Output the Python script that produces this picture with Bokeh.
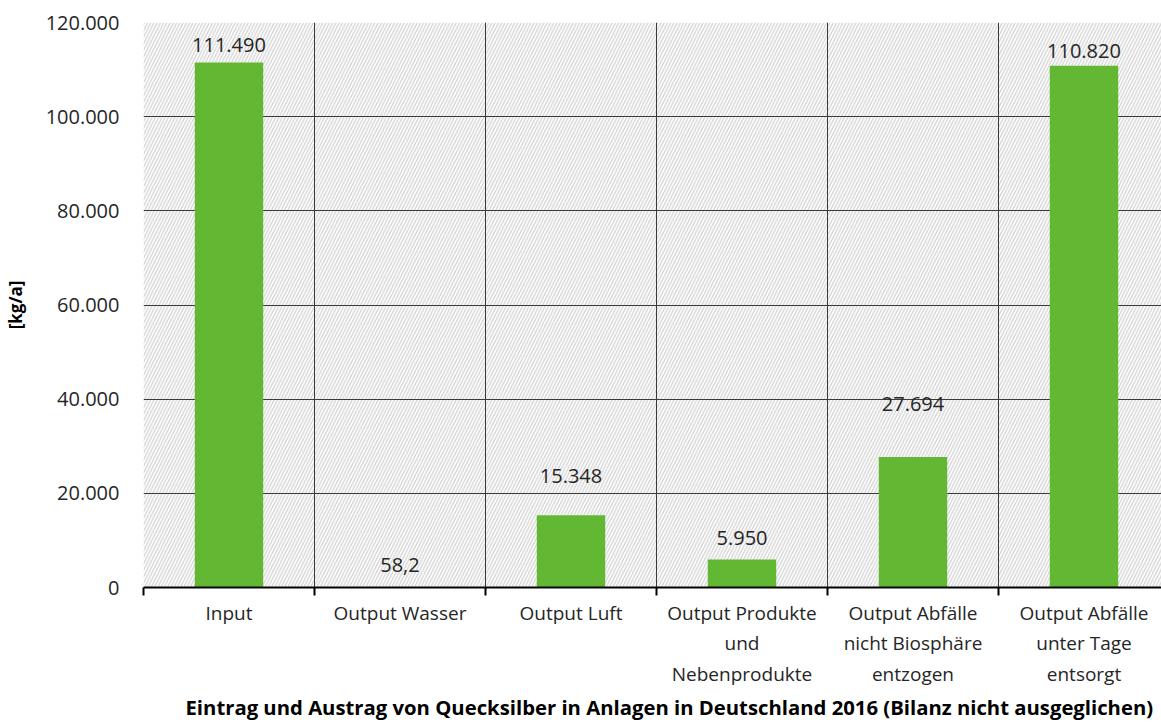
from bokeh.plotting import figure
from bokeh.models import ColumnDataSource, FixedTicker, LabelSet, Title
from bokeh.core.properties import value
from bokeh.embed import file_html
from bokeh.resources import INLINE

categories = ["Input", "Output Wasser", "Output Luft",
              "Output Produkte\nund\nNebenprodukte",
              "Output Abfälle\nnicht Biosphäre\nentzogen",
              "Output Abfälle\nunter Tage\nentsorgt"]
values = [111490, 58.2, 15348, 5950, 27694, 110820]
value_labels = ["111.490", "58,2", "15.348", "5.950", "27.694", "110.820"]
y_ticks = [0, 20000, 40000, 60000, 80000, 100000, 120000]
y_tick_labels = ["0", "20.000", "40.000", "60.000", "80.000", "100.000", "120.000"]
title_text = "Eintrag und Austrag von Quecksilber in Anlagen in Deutschland 2016 (Bilanz nicht ausgeglichen)"
y_label = "[kg/a]"

# layout-only: manual lift of each data label above its bar, in pixels
label_lift_px = [18, 22, 39, 21, 53, 15]

FONT = "Open Sans"
TXT = "#262626"
GREEN = "#62b833"

n = len(categories)
centers = [i + 0.5 for i in range(n)]
bounds = list(range(n + 1))

W, H = 1161, 722
left_px, top_px = 143, 22
frame_w = W - left_px
x_end = frame_w / 171.0

p = figure(width=W, height=H, output_backend="svg", toolbar_location=None,
           x_range=(0, x_end), y_range=(0, 120000),
           min_border_left=left_px, min_border_right=0,
           min_border_top=top_px, min_border_bottom=0)
p.outline_line_color = None
p.background_fill_color = "white"
p.border_fill_color = "white"

# hatched plot-area background
p.quad(left=[0], right=[n], bottom=[y_ticks[0]], top=[y_ticks[-1]],
       fill_color="white", line_color=None,
       hatch_pattern="/", hatch_color="#d2d2d2", hatch_scale=6.5, hatch_weight=1.3,
       level="underlay")

src = ColumnDataSource(dict(x=centers, top=values, lab=value_labels, lift=label_lift_px))
p.vbar(x="x", top="top", bottom=0, width=0.4, source=src,
       fill_color=GREEN, line_color=None)

labels = LabelSet(x="x", y="top", text="lab", y_offset="lift", source=src,
                  text_align="center", text_baseline="middle",
                  text_font=value(FONT), text_font_size=value("20px"),
                  text_color=value(TXT))
p.add_layout(labels)

# grids
p.xgrid.ticker = FixedTicker(ticks=bounds)
p.ygrid.ticker = FixedTicker(ticks=y_ticks)
for g in (p.xgrid[0], p.ygrid[0]):
    g.grid_line_color = "#3a3a3a"
    g.grid_line_width = 1

# y axis
p.yaxis.ticker = FixedTicker(ticks=y_ticks)
p.yaxis.major_label_overrides = {t: l for t, l in zip(y_ticks, y_tick_labels)}
p.yaxis.axis_line_color = None
p.yaxis.major_tick_line_color = None
p.yaxis.minor_tick_line_color = None
p.yaxis.major_label_standoff = 18
p.yaxis.major_label_text_font = FONT
p.yaxis.major_label_text_font_size = "20px"
p.yaxis.major_label_text_color = TXT
p.yaxis.axis_label = y_label
p.yaxis.axis_label_text_font = FONT
p.yaxis.axis_label_text_font_style = "bold"
p.yaxis.axis_label_text_font_size = "17px"
p.yaxis.axis_label_text_color = "#000000"
p.yaxis.axis_label_standoff = 16

# x axis
p.xaxis.ticker = FixedTicker(ticks=centers, minor_ticks=bounds)
p.xaxis.major_label_overrides = {c: l for c, l in zip(centers, categories)}
p.xaxis.axis_line_color = "black"
p.xaxis.axis_line_width = 2
p.xaxis.major_tick_line_color = None
p.xaxis.minor_tick_line_color = "black"
p.xaxis.minor_tick_line_width = 2
p.xaxis.minor_tick_in = 0
p.xaxis.minor_tick_out = 8
p.xaxis.major_tick_out = 8
p.xaxis.major_label_standoff = 4
p.xaxis.major_label_text_font = FONT
p.xaxis.major_label_text_font_size = "19px"
p.xaxis.major_label_text_color = TXT
p.xaxis.major_label_text_line_height = 1.18

t = Title(text=title_text, align="left", offset=42, text_font=FONT,
          text_font_style="bold", text_font_size="20.3px", text_color="#000000",
          standoff=3)
p.add_layout(t, "below")

open("out.html", "w").write(file_html(p, INLINE))
